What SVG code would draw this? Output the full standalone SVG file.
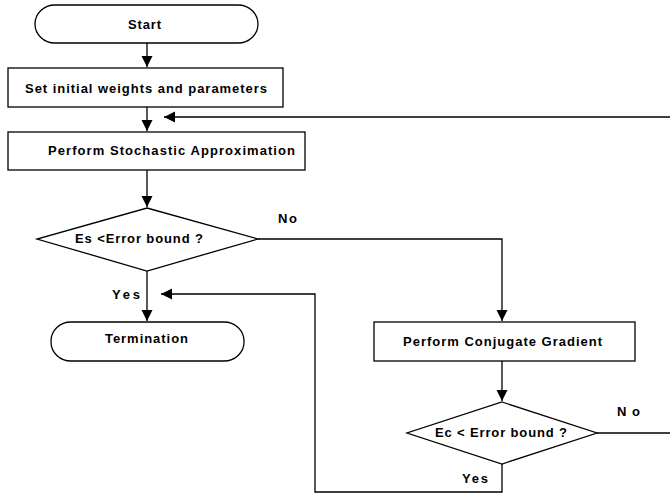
<svg xmlns="http://www.w3.org/2000/svg" width="670" height="502" viewBox="0 0 670 502">
<style>
.s{fill:#fff;stroke:#000;stroke-width:1.3}
.c{fill:none;stroke:#000;stroke-width:1.3}
text{font-family:"Liberation Sans",Arial,sans-serif;font-weight:bold;font-size:13px;fill:#000}
</style>
<defs>
<marker id="a" markerWidth="12" markerHeight="12" refX="11" refY="5.5" orient="auto" markerUnits="userSpaceOnUse">
<path d="M0,0 L11,5.5 L0,11 Z" fill="#000"/>
</marker>
</defs>
<rect width="670" height="502" fill="#fff"/>
<g id="connectors">
<path class="c" d="M147,43 V67" marker-end="url(#a)"/>
<path class="c" d="M147,107 V131" marker-end="url(#a)"/>
<path class="c" d="M670,117 H164" marker-end="url(#a)"/>
<path class="c" d="M147,170 V207" marker-end="url(#a)"/>
<path class="c" d="M258,239 H502 V321" marker-end="url(#a)"/>
<path class="c" d="M147,271 V321" marker-end="url(#a)"/>
<path class="c" d="M502,361 V401" marker-end="url(#a)"/>
<path class="c" d="M597,433 H670"/>
<path class="c" d="M502,464 V492 H315 V294 H161" marker-end="url(#a)"/>
<text x="278" y="223" textLength="19" lengthAdjust="spacing">No</text>
<text x="112" y="299" textLength="28" lengthAdjust="spacing">Yes</text>
<text x="617" y="416" textLength="23" lengthAdjust="spacing">No</text>
<text x="462" y="483" textLength="26" lengthAdjust="spacing">Yes</text>
</g>
<g id="start">
<rect class="s" x="35" y="5" width="223" height="38" rx="20" ry="19"/>
<text x="128" y="29" textLength="33" lengthAdjust="spacing">Start</text>
</g>
<g id="init">
<rect class="s" x="8" y="68" width="275" height="39"/>
<text x="25" y="93" textLength="242" lengthAdjust="spacing">Set initial weights and parameters</text>
</g>
<g id="stochastic">
<rect class="s" x="8" y="132" width="297" height="38"/>
<text x="48" y="155" textLength="247" lengthAdjust="spacing">Perform  Stochastic Approximation</text>
</g>
<g id="decision1">
<polygon class="s" points="147,208 258,239 147,271 37,239"/>
<text x="75" y="243" textLength="128" lengthAdjust="spacing">Es &lt;Error bound ?</text>
</g>
<g id="termination">
<rect class="s" x="51" y="322" width="193" height="39" rx="20" ry="19"/>
<text x="105" y="343" textLength="83" lengthAdjust="spacing">Termination</text>
</g>
<g id="conjugate">
<rect class="s" x="374" y="322" width="261" height="39"/>
<text x="403" y="346" textLength="199" lengthAdjust="spacing">Perform  Conjugate Gradient</text>
</g>
<g id="decision2">
<polygon class="s" points="502,402 597,433 502,464 407,433"/>
<text x="435" y="437" textLength="132" lengthAdjust="spacing">Ec &lt; Error bound ?</text>
</g>
</svg>
